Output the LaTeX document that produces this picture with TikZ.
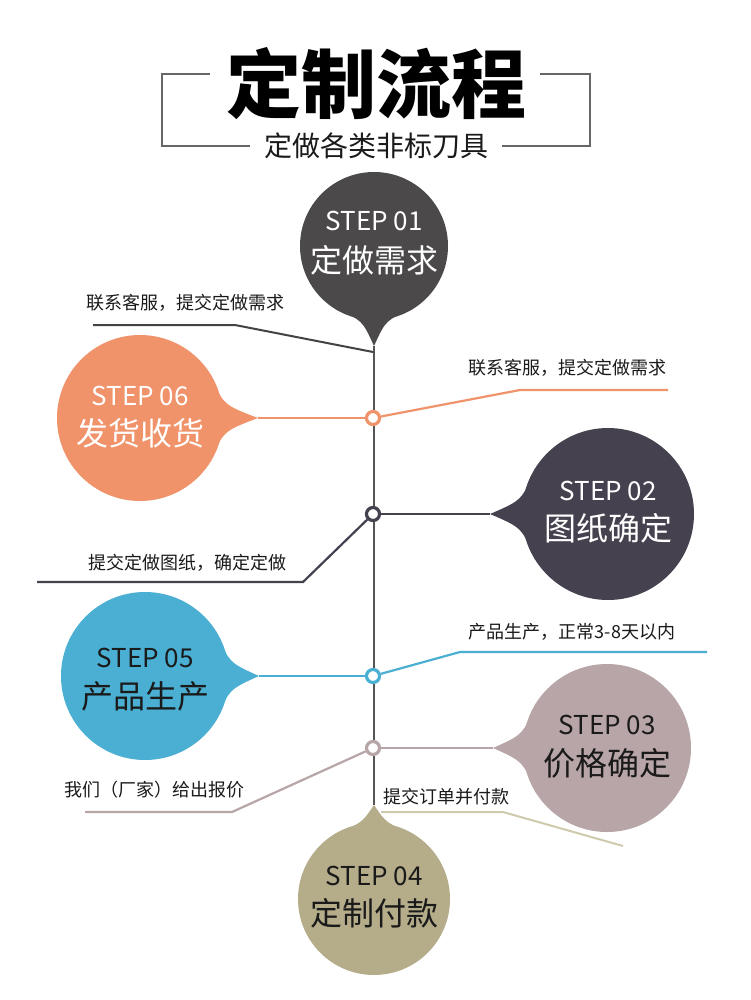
\documentclass[tikz,border=0pt]{standalone}
\usepackage{fontspec}
\newfontfamily\cjk{Noto Sans CJK SC}
\definecolor{cone}{HTML}{4B4949}
\definecolor{ctwo}{HTML}{46414F}
\definecolor{cthree}{HTML}{B8A5A7}
\definecolor{cfour}{HTML}{B5AC8A}
\definecolor{cfourline}{HTML}{CFC9AE}
\definecolor{cfive}{HTML}{4AAFD2}
\definecolor{csix}{HTML}{F0936A}
\definecolor{axis}{HTML}{555555}
\definecolor{frame}{HTML}{666666}
\definecolor{txt}{HTML}{1A1A1A}
\tikzset{
  ring/.style={circle,draw=#1,line width=3.2pt,fill=white,inner sep=0pt,minimum size=13pt},
  note/.style={font=\cjk\fontsize{18}{21}\selectfont,text=txt,inner sep=0pt},
  steptxt/.style={font=\cjk\fontsize{26}{30}\selectfont,inner sep=0pt},
  namtxt/.style={font=\cjk\fontsize{32}{36}\selectfont,inner sep=0pt},
  conn/.style={line width=2.2pt,draw=#1},
}
% #1 name, #2 x, #3 y, #4 radius, #5 tip distance, #6 rotation, #7 colour
\newcommand\mkballoon[7]{%
  \begin{scope}[shift={(#2,#3)},rotate=#6]
    \fill[#7] (32:#4) .. controls ({#4*1.0},{#4*0.16}) .. (#5,0)
      .. controls ({#4*1.0},{-#4*0.16}) .. (-32:#4) -- cycle;
    \coordinate (#1tip) at (#5,0);
  \end{scope}
  \node[circle,fill=#7,minimum size=2*#4pt,inner sep=0pt] (#1) at (#2,#3) {};
}
\begin{document}
\begin{tikzpicture}[x=1pt,y=-1pt]
\fill[white] (0,0) rectangle (750,1000);
\useasboundingbox (0,0) rectangle (750,1000);

% title
\node[font=\cjk\bfseries\fontsize{75}{82}\selectfont,inner sep=0pt] (title) at (376,84) {定制流程};
\node[font=\cjk\fontsize{28}{31}\selectfont,text=txt,inner sep=0pt] (sub) at (376,146) {定做各类非标刀具};
\draw[frame,line width=1.8pt] (210,74) -- (162,74) -- (162,146) -- (250,146);
\draw[frame,line width=1.8pt] (540,74) -- (590,74) -- (590,146) -- (502,146);

% balloons
\mkballoon{sone}{374}{246}{74}{100}{-90}{cone}
\mkballoon{ssix}{140}{418}{83}{118}{0}{csix}
\mkballoon{stwo}{608}{514}{86}{118}{180}{ctwo}
\mkballoon{sfive}{145}{676}{84}{114}{0}{cfive}
\mkballoon{sthree}{607}{748}{84}{114}{180}{cthree}
\mkballoon{sfour}{374}{899}{76}{94}{90}{cfour}

% main axis
\draw[axis,line width=2pt] (sonetip) -- (sfourtip);

% balloon texts
\node[steptxt,text=white] at (374,221) {STEP 01};
\node[namtxt,text=white] at (374,260) {定做需求};
\node[steptxt,text=white] at (140,396) {STEP 06};
\node[namtxt,text=white] at (140,433) {发货收货};
\node[steptxt,text=white] at (608,491) {STEP 02};
\node[namtxt,text=white] at (608,528) {图纸确定};
\node[steptxt,text=txt] at (145,658) {STEP 05};
\node[namtxt,text=txt] at (145,696) {产品生产};
\node[steptxt,text=txt] at (607,725) {STEP 03};
\node[namtxt,text=txt] at (607,763) {价格确定};
\node[steptxt,text=txt] at (374,876) {STEP 04};
\node[namtxt,text=txt] at (374,913) {定制付款};

% rings on axis
\node[ring=csix] (rsix) at (373,418) {};
\node[ring=ctwo] (rtwo) at (373,514) {};
\node[ring=cfive] (rfive) at (373,676) {};
\node[ring=cthree] (rthree) at (373,748) {};

% step 01 note
\coordinate (aone) at (93,325);
\coordinate (bone) at (235,325);
\coordinate (eone) at (373,352);
\draw[line width=2pt,draw=cone!90!black] (aone) -- (bone) -- (eone);
\node[note] (none) at (185,303) {联系客服，提交定做需求};

% step 06
\draw[conn=csix] (ssixtip) -- (rsix);
\coordinate (asix) at (520,390);
\coordinate (bsix) at (668,390);
\draw[conn=csix] (rsix) -- (asix) -- (bsix);
\node[note] (nsix) at (567,368) {联系客服，提交定做需求};

% step 02
\draw[conn=ctwo] (stwotip) -- (rtwo);
\coordinate (atwo) at (303,582);
\coordinate (btwo) at (37,582);
\draw[conn=ctwo] (rtwo) -- (atwo) -- (btwo);
\node[note] (ntwo) at (187,563) {提交定做图纸，确定定做};

% step 05
\draw[conn=cfive] (sfivetip) -- (rfive);
\coordinate (afive) at (460,652);
\coordinate (bfive) at (707,652);
\draw[conn=cfive] (rfive) -- (afive) -- (bfive);
\node[note] (nfive) at (572,632) {产品生产，正常3-8天以内};

% step 03
\draw[conn=cthree] (sthreetip) -- (rthree);
\coordinate (athree) at (232,812);
\coordinate (bthree) at (85,812);
\draw[conn=cthree] (rthree) -- (athree) -- (bthree);
\node[note] (nthree) at (154,790) {我们（厂家）给出报价};

% step 04
\coordinate (sfour) at (381,812);
\coordinate (afour) at (503,812);
\coordinate (bfour) at (623,846);
\draw[line width=2pt,draw=cfourline] (sfour) -- (afour) -- (bfour);
\node[note] (nfour) at (446,797) {提交订单并付款};
\end{tikzpicture}
\end{document}
